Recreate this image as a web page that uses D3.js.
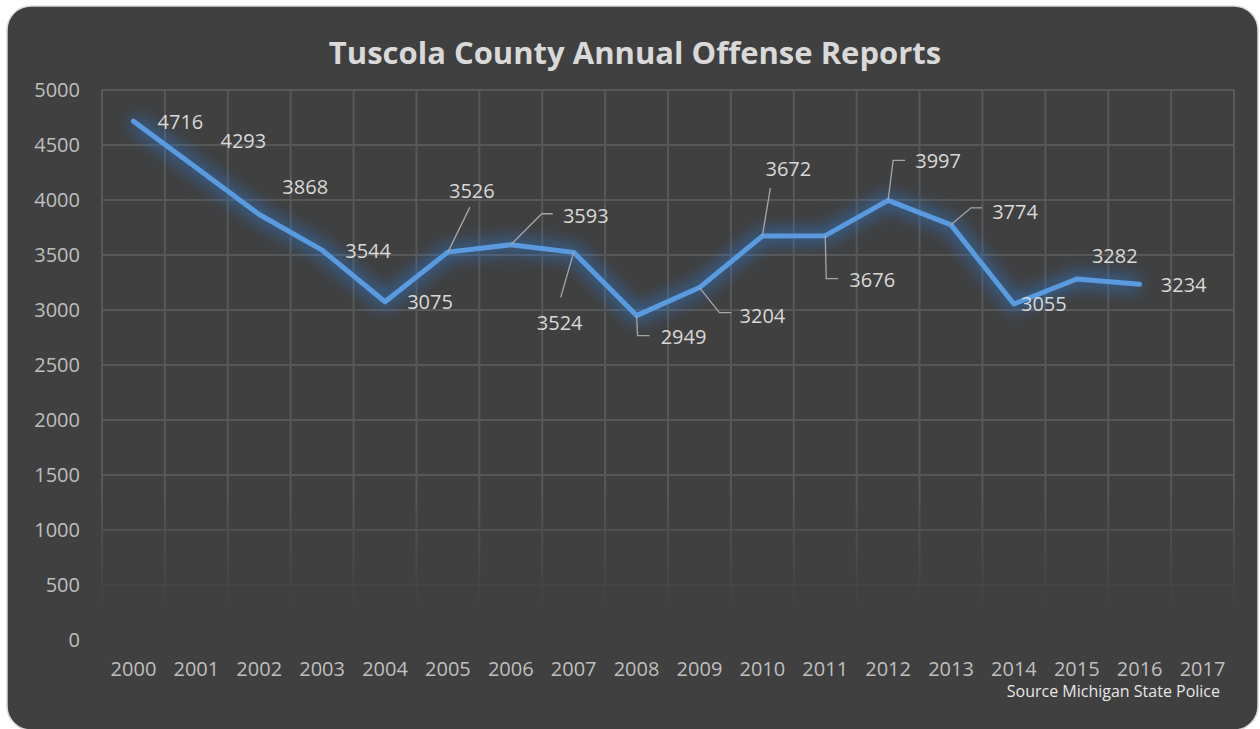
<!DOCTYPE html>
<html>
<head>
<meta charset="utf-8">
<script src="https://cdn.jsdelivr.net/npm/d3@7"></script>
<style>
  html, body { margin: 0; padding: 0; background: #ffffff; }
  svg { display: block; }
  text { font-family: "Open Sans", "Noto Sans", sans-serif; }
</style>
</head>
<body>
<svg id="chart" width="1260" height="729"></svg>
<script>
// Annual offense reports, Tuscola County (Michigan State Police)
const years = ["2000","2001","2002","2003","2004","2005","2006","2007","2008",
               "2009","2010","2011","2012","2013","2014","2015","2016","2017"];
const offenses = [4716, 4293, 3868, 3544, 3075, 3526, 3593, 3524, 2949,
                  3204, 3672, 3676, 3997, 3774, 3055, 3282, 3234, null];
const yTicks = [0, 500, 1000, 1500, 2000, 2500, 3000, 3500, 4000, 4500, 5000];

// Label placement for each point: text offset and optional leader path (relative to the point)
const labelLayout = [
  {dx: 47, dy: 0},
  {dx: 47, dy: -27},
  {dx: 46, dy: -28},
  {dx: 46, dy: 0},
  {dx: 45, dy: 0},
  {dx: 24, dy: -62, leader: [[0,0],[22,-45]]},
  {dx: 75, dy: -29, leader: [[0,0],[31,-31],[42,-31]]},
  {dx: -14, dy: 70, leader: [[0,0],[-13,45]]},
  {dx: 47, dy: 21, leader: [[0,0],[1,20],[13,20]]},
  {dx: 63, dy: 28, leader: [[0,0],[20,25],[32,25]]},
  {dx: 26, dy: -68, leader: [[0,0],[8,-48]]},
  {dx: 47, dy: 44, leader: [[0,0],[1,43],[13,43]]},
  {dx: 50, dy: -40, leader: [[0,0],[5,-40],[17,-40]]},
  {dx: 64, dy: -13, leader: [[0,0],[20,-17],[31,-17]]},
  {dx: 30, dy: 0},
  {dx: 38, dy: -23},
  {dx: 44, dy: 0},
  null
];

const svg = d3.select("#chart");
const W = 1260, H = 729;
const plot = {left: 102, right: 1234, top: 90, bottom: 640};

const defs = svg.append("defs");

// soft glow around the series line
const glow = defs.append("filter").attr("id", "glow")
  .attr("x", "-20%").attr("y", "-40%").attr("width", "140%").attr("height", "180%");
glow.append("feGaussianBlur").attr("stdDeviation", 8);

// gridlines fade out toward the bottom of the plot
const fade = defs.append("linearGradient").attr("id", "gridFade")
  .attr("gradientUnits", "userSpaceOnUse")
  .attr("x1", 0).attr("x2", 0).attr("y1", plot.top).attr("y2", plot.bottom);
fade.append("stop").attr("offset", 0).attr("stop-color", "#fff");
fade.append("stop").attr("offset", 0.72).attr("stop-color", "#fff");
fade.append("stop").attr("offset", 0.95).attr("stop-color", "#000");
fade.append("stop").attr("offset", 1).attr("stop-color", "#000");
defs.append("mask").attr("id", "gridMask")
  .attr("maskUnits", "userSpaceOnUse")
  .attr("x", 0).attr("y", 0).attr("width", W).attr("height", H)
  .append("rect").attr("x", 0).attr("y", 0).attr("width", W).attr("height", H)
  .attr("fill", "url(#gridFade)");

// card background
svg.append("rect")
  .attr("x", 7).attr("y", 6).attr("width", 1251).attr("height", 724)
  .attr("rx", 24).attr("ry", 24)
  .attr("fill", "#404040")
  .attr("stroke", "#d9d9d9").attr("stroke-width", 1.5);

const x = d3.scaleBand().domain(years).range([plot.left, plot.right]).padding(0);
const y = d3.scaleLinear().domain([0, 5000]).range([plot.bottom, plot.top]);

// grid
const grid = svg.append("g").attr("mask", "url(#gridMask)");
grid.selectAll("line.h").data(yTicks.filter(d => d > 0)).join("line")
  .attr("x1", plot.left).attr("x2", plot.right)
  .attr("y1", d => y(d)).attr("y2", d => y(d))
  .attr("stroke", "#585858").attr("stroke-width", 2);
const bounds = years.map(d => x(d)).concat([plot.right]);
grid.selectAll("line.v").data(bounds).join("line")
  .attr("x1", d => d).attr("x2", d => d)
  .attr("y1", plot.top).attr("y2", plot.bottom)
  .attr("stroke", "#585858").attr("stroke-width", 2);

// y axis labels
const yAxis = svg.append("g")
  .attr("transform", `translate(${plot.left - 22},0)`)
  .call(d3.axisLeft(y).tickValues(yTicks).tickSize(0).tickPadding(0).tickFormat(d3.format("d")));
yAxis.select(".domain").remove();
yAxis.selectAll("text")
  .attr("fill", "#bfbfbf").attr("font-size", 20)
  .attr("font-family", "'Open Sans', sans-serif");

// x axis labels
const xAxis = svg.append("g")
  .attr("transform", `translate(0,${plot.bottom + 22})`)
  .call(d3.axisBottom(x).tickSize(0).tickPadding(0));
xAxis.select(".domain").remove();
xAxis.selectAll("text")
  .attr("fill", "#bfbfbf").attr("font-size", 20)
  .attr("font-family", "'Open Sans', sans-serif");

// series
const pts = years.map((yr, i) => ({yr, v: offenses[i], i})).filter(d => d.v != null);
const cx = d => x(d.yr) + x.bandwidth() / 2;
const line = d3.line().x(cx).y(d => y(d.v));

svg.append("path").datum(pts).attr("d", line)
  .attr("fill", "none").attr("stroke", "#2e7ad6").attr("stroke-width", 16)
  .attr("stroke-linejoin", "round").attr("opacity", 0.5)
  .attr("filter", "url(#glow)");
svg.append("path").datum(pts).attr("d", line)
  .attr("fill", "none").attr("stroke", "#5a9be0").attr("stroke-width", 5)
  .attr("stroke-linejoin", "round").attr("stroke-linecap", "round");

// leader lines and data labels
const labels = svg.append("g");
pts.forEach(d => {
  const L = labelLayout[d.i];
  if (!L) return;
  const px = cx(d), py = y(d.v);
  if (L.leader) {
    labels.append("path")
      .attr("d", d3.line()(L.leader.map(p => [px + p[0], py + p[1]])))
      .attr("fill", "none").attr("stroke", "#a6a6a6").attr("stroke-width", 1.3);
  }
  labels.append("text")
    .attr("x", px + L.dx).attr("y", py + L.dy)
    .attr("text-anchor", "middle").attr("dominant-baseline", "central")
    .attr("fill", "#d9d9d9").attr("font-size", 20)
    .text(d3.format("d")(d.v));
});

// title
svg.append("text")
  .attr("x", 635).attr("y", 64)
  .attr("text-anchor", "middle")
  .attr("fill", "#d9d9d9").attr("font-size", 31).attr("font-weight", 700)
  .text("Tuscola County Annual Offense Reports");

// source note
svg.append("text")
  .attr("x", 1220).attr("y", 697)
  .attr("text-anchor", "end")
  .attr("fill", "#e6e6e6").attr("font-size", 16)
  .text("Source Michigan State Police");
</script>
</body>
</html>
